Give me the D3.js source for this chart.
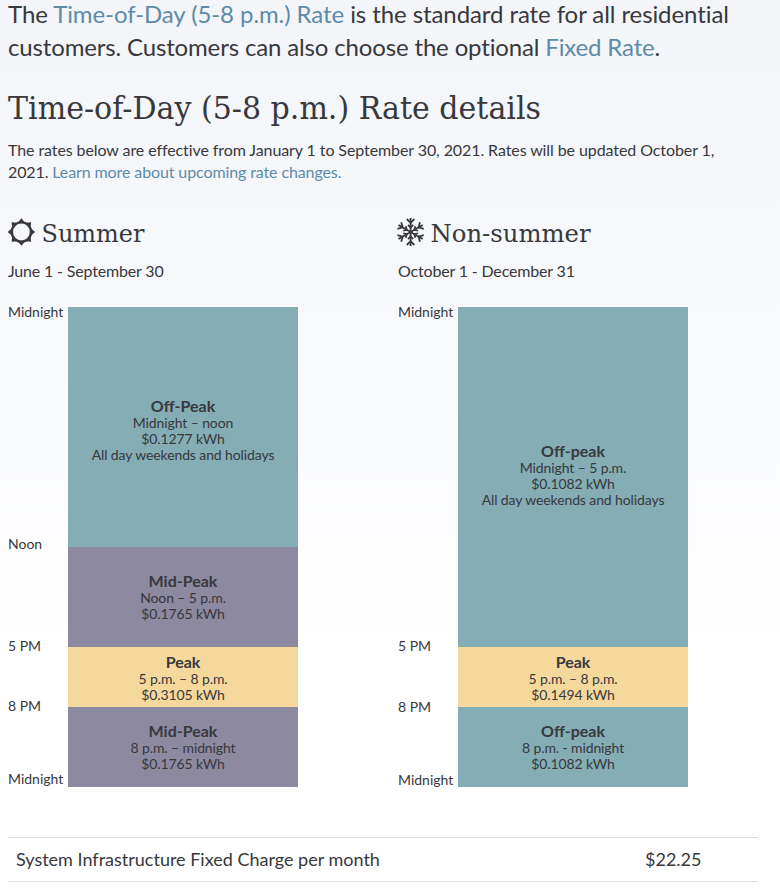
<!DOCTYPE html>
<html>
<head>
<meta charset="utf-8">
<script src="https://cdnjs.cloudflare.com/ajax/libs/d3/7.8.5/d3.min.js"></script>
<style>
html,body{margin:0;padding:0;background:#fff;overflow:hidden}
svg{display:block}
text{font-family:Lato,sans-serif;fill:#38383d}
.slab{font-family:"DejaVu Serif",serif;}
.link{fill:#5d8ba8}
</style>
</head>
<body>
<svg id="chart" width="780" height="894"></svg>
<script>
// Rate periods for each season, in hours since midnight
const summerStart = [0, 12, 17, 20];
const summerEnd = [12, 17, 20, 24];
const summerPeriods = ["Off-Peak", "Mid-Peak", "Peak", "Mid-Peak"];
const summerHours = ["Midnight – noon", "Noon – 5 p.m.", "5 p.m. – 8 p.m.", "8 p.m. – midnight"];
const summerRates = [0.1277, 0.1765, 0.3105, 0.1765];
const summerNotes = ["All day weekends and holidays", "", "", ""];

const winterStart = [0, 17, 20];
const winterEnd = [17, 20, 24];
const winterPeriods = ["Off-peak", "Peak", "Off-peak"];
const winterHours = ["Midnight – 5 p.m.", "5 p.m. – 8 p.m.", "8 p.m. - midnight"];
const winterRates = [0.1082, 0.1494, 0.1082];
const winterNotes = ["All day weekends and holidays", "", ""];

const summerTickHours = [0, 12, 17, 20, 24];
const summerTickLabels = ["Midnight", "Noon", "5 PM", "8 PM", "Midnight"];
const winterTickHours = [0, 17, 20, 24];
const winterTickLabels = ["Midnight", "5 PM", "8 PM", "Midnight"];

const fixedChargeLabel = "System Infrastructure Fixed Charge per month";
const fixedCharge = 22.25;

const svg = d3.select("#chart");

// Page wash fading from pale blue-grey to white
const grad = svg.append("defs").append("linearGradient")
  .attr("id", "wash").attr("x1", 0).attr("x2", 0).attr("y1", 0).attr("y2", 1);
grad.append("stop").attr("offset", 0).attr("stop-color", "#f3f5f9");
grad.append("stop").attr("offset", 0.3).attr("stop-color", "#f6f8fc");
grad.append("stop").attr("offset", 0.72).attr("stop-color", "#ffffff");
svg.append("rect").attr("width", 780).attr("height", 894).attr("fill", "url(#wash)");

// Intro paragraphs made of plain and linked runs
function runs(y, size, spacing, parts) {
  const t = svg.append("text").attr("x", 8).attr("y", y)
    .style("font-size", size + "px").style("letter-spacing", spacing + "px");
  parts.forEach(p => t.append("tspan").attr("class", p[1] ? "link" : null).text(p[0]));
}
runs(23, 24, -0.085, [["The "], ["Time-of-Day (5-8 p.m.) Rate", 1], [" is the standard rate for all residential"]]);
runs(56, 24, -0.15, [["customers. Customers can also choose the optional "], ["Fixed Rate", 1], ["."]]);
svg.append("text").attr("class", "slab").attr("x", 8).attr("y", 119)
  .attr("textLength", 533).attr("lengthAdjust", "spacingAndGlyphs")
  .style("font-size", "31px").text("Time-of-Day (5-8 p.m.) Rate details");
runs(156, 16, -0.09, [["The rates below are effective from January 1 to September 30, 2021. Rates will be updated October 1,"]]);
runs(178, 16, -0.11, [["2021. "], ["Learn more about upcoming rate changes.", 1]]);

const color = d3.scaleOrdinal()
  .domain(["off-peak", "mid-peak", "peak"])
  .range(["#84adb6", "#8c89a1", "#f5d99c"]);
const y = d3.scaleLinear().domain([0, 24]).range([307, 787]);

function season(x0, name, dates, iconX, titleX, titleLen, late, tickHours, tickLabels, start, end, periods, hours, rates, notes, icon, nudges) {
  const g = svg.append("g").attr("transform", `translate(${x0},0)`);
  icon(g.append("g").attr("transform", `translate(${iconX},232)`));
  g.append("text").attr("class", "slab").attr("x", titleX).attr("y", 242)
    .attr("textLength", titleLen).attr("lengthAdjust", "spacingAndGlyphs")
    .style("font-size", "24px").text(name);
  g.append("text").attr("y", 277).style("font-size", "16px").style("letter-spacing", "-0.17px").text(dates);

  const rows = start.map((s, i) => ({s, e: end[i], period: periods[i], hours: hours[i], rate: rates[i], note: notes[i], dy: nudges[i]}));
  g.selectAll("rect.seg").data(rows).join("rect").attr("class", "seg")
    .attr("x", 60).attr("width", 230)
    .attr("y", d => y(d.s)).attr("height", d => y(d.e) - y(d.s))
    .attr("fill", d => color(d.period.toLowerCase()));

  const lab = g.selectAll("g.lab").data(rows).join("g").attr("class", "lab")
    .attr("transform", d => `translate(175,${(y(d.s) + y(d.e)) / 2 + d.dy})`)
    .attr("text-anchor", "middle");
  lab.append("text").attr("y", -10).style("font-size", "16px").style("font-weight", 700).text(d => d.period);
  const small = [[6, d => d.hours], [22, d => `$${d.rate.toFixed(4)} kWh`], [38, d => d.note]];
  small.forEach(([dy, fn]) => lab.append("text").attr("y", dy)
    .style("font-size", "14px").style("letter-spacing", "-0.11px").text(fn));

  // Hour labels sit just above their boundary, the first one just below it
  const axis = d3.axisLeft(y).tickValues(tickHours).tickSize(0).tickPadding(0)
    .tickFormat((d, i) => tickLabels[i]);
  const ax = g.append("g").call(axis);
  ax.select(".domain").remove();
  ax.selectAll("text").attr("text-anchor", "start").attr("x", 0).attr("dy", null)
    .style("font-family", "Lato,sans-serif").style("font-size", "14px")
    .attr("y", d => d === 0 ? 9 : d === 24 ? -4 + late : d === 12 ? 1 : d === 17 ? 3 : 3 + late);
}

function sun(g) {
  g.append("circle").attr("r", 9.6).attr("fill", "none").attr("stroke", "#38383d").attr("stroke-width", 2.4);
  g.selectAll("path").data(d3.range(8)).join("path")
    .attr("d", "M-3.2,-9.8L0,-13.8L3.2,-9.8Z").attr("fill", "#38383d")
    .attr("transform", d => `rotate(${d * 45})`);
}
function snow(g) {
  const arms = g.selectAll("g").data(d3.range(6)).join("g")
    .attr("transform", d => `rotate(${d * 60})`)
    .attr("fill", "none").attr("stroke", "#38383d").attr("stroke-width", 1.8);
  arms.append("path").attr("d", "M0,0V-14");
  arms.append("path").attr("d", "M-3.8,-13L0,-9.2L3.8,-13");
  arms.append("path").attr("d", "M-2.6,-7L0,-4.4L2.6,-7");
}

season(8, "Summer", "June 1 - September 30", 13.4, 33.5, 103, 0, summerTickHours, summerTickLabels,
  summerStart, summerEnd, summerPeriods, summerHours, summerRates, summerNotes, sun, [-5, 0, 1, 0]);
season(398, "Non-summer", "October 1 - December 31", 12.6, 32.5, 160, 1, winterTickHours, winterTickLabels,
  winterStart, winterEnd, winterPeriods, winterHours, winterRates, winterNotes, snow, [-10, 1, 0]);

// Fixed monthly charge row
svg.selectAll("line.rule").data([837.5, 881.5]).join("line").attr("class", "rule")
  .attr("x1", 8).attr("x2", 758).attr("y1", d => d).attr("y2", d => d)
  .attr("stroke", "#dddddd").attr("stroke-width", 1);
svg.append("text").attr("x", 16).attr("y", 866).style("font-size", "18px").text(fixedChargeLabel);
svg.append("text").attr("x", 645).attr("y", 866).style("font-size", "18px").text(`$${fixedCharge.toFixed(2)}`);
</script>
</body>
</html>
